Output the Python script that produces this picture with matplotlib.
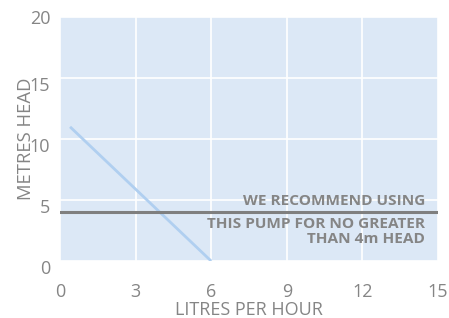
import matplotlib
matplotlib.use('Agg')
import matplotlib.pyplot as plt
import matplotlib.transforms as mtransforms

# pump curve: litres per hour vs metres head
flow = [0.4, 6]
head = [11, 0]
recommend_head = 4
x_ticks = [0, 3, 6, 9, 12, 15]
y_ticks = [0, 5, 10, 15, 20]
note = ['WE RECOMMEND USING', 'THIS PUMP FOR NO GREATER', 'THAN 4m HEAD']

plt.rcParams['font.family'] = ['Open Sans', 'DejaVu Sans']
grey = '#858585'

fig = plt.figure(figsize=(4.49, 3.18), dpi=100)
ax = fig.add_axes([0.1336, 0.179, 0.8419, 0.7675])
ax.set_facecolor('#dce8f6')

ax.plot(flow, head, color='#b0cff0', lw=2, solid_capstyle='butt', zorder=3)
ax.axhline(recommend_head, color='#7f7f7f', lw=2.2, zorder=4)

# note lines, right aligned a little inside the plot edge
for txt, yb in zip(note, [4.6, 2.7, 1.48]):
    ax.text(14.48, yb, txt, ha='right', va='baseline', fontsize=11.1,
            fontweight='bold', color=grey)

ax.set_xlim(0, 15)
ax.set_ylim(0, 20)
ax.set_xticks(x_ticks)
ax.set_yticks(y_ticks)
ax.grid(True, color='white', lw=1.2)
ax.set_axisbelow(True)
for s in ax.spines.values():
    s.set_visible(False)
ax.tick_params(length=0, labelsize=13, labelcolor=grey)
ax.tick_params(axis='x', pad=16)
ax.tick_params(axis='y', pad=7)
# y labels sit a bit under their gridlines (except the top one)
shift = mtransforms.ScaledTranslation(0, -6 / 100, fig.dpi_scale_trans)
for lab in ax.get_yticklabels()[:-1]:
    lab.set_transform(lab.get_transform() + shift)
ax.set_xlabel('LITRES PER HOUR', fontsize=13, color=grey, labelpad=0)
ax.set_ylabel('METRES HEAD', fontsize=13.3, color=grey, labelpad=-4)

fig.savefig('out.png', dpi=100)
